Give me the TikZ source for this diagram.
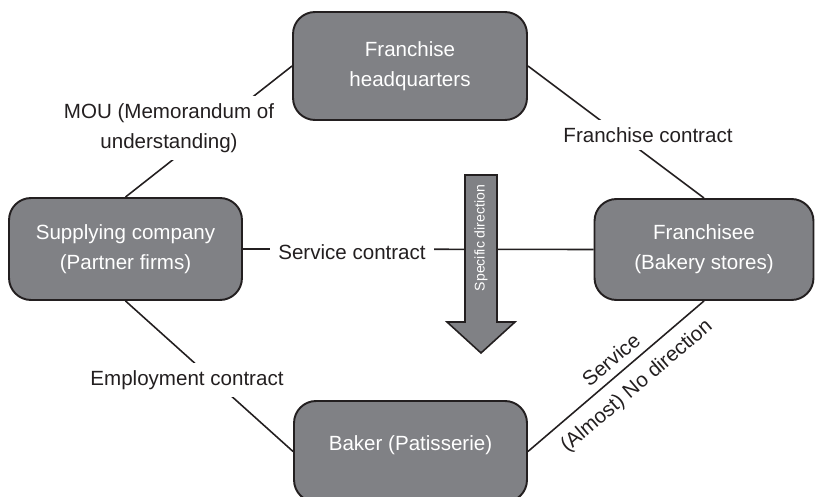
\documentclass[tikz,border=0pt]{standalone}
\usepackage{fontspec}
\setmainfont{Liberation Sans}
\definecolor{boxgray}{RGB}{128,129,133}
\definecolor{inkdark}{RGB}{35,31,32}
\begin{document}
\begin{tikzpicture}[x=0.02cm,y=0.02cm,font=\fontsize{11.7}{17}\selectfont]
\tikzstyle{party}=[draw=inkdark, fill=boxgray, line width=1.1pt, rounded corners=0.44cm, text=white, align=center, inner sep=0pt]
\tikzstyle{deal}=[fill=white, text=inkdark, align=center, inner sep=4.5pt]
\tikzstyle{link}=[draw=inkdark, line width=0.9pt]

\useasboundingbox (0,0) rectangle (815,497);
\clip (0,0) rectangle (815,497);

\node[party, minimum width=4.68cm, minimum height=2.16cm] (HQ) at (410,431) {Franchise\\headquarters};
\node[party, minimum width=4.66cm, minimum height=2.04cm] (SC) at (125.5,248) {Supplying company\\(Partner firms)};
\node[party, minimum width=4.38cm, minimum height=2.02cm] (FR) at (704,247.5) {Franchisee\\(Bakery stores)};
\node[party, minimum width=4.66cm, minimum height=2.02cm, text height=0.75em, text depth=0.85em] (BK) at (410.5,45.5) {Baker (Patisserie)};

\draw[link] (HQ.west) -- (SC.north);
\draw[link] (HQ.east) -- (FR.north);
\draw[link] (SC.east) -- (FR.west);
\draw[link] (SC.south) -- (BK.west);
\draw[link] (FR.south) -- node[pos=0.47, sloped, above=1pt, text=inkdark] {Service}
  node[pos=0.46, sloped, below=3pt, text=inkdark] {(Almost) No direction} (BK.east);

\node[deal] (mou) at (169,369) {MOU (Memorandum of\\understanding)};
\node[deal] (fc) at (648,362) {Franchise contract};
\node[deal] (sc) at (352,245) {Service contract};
\node[deal] (ec) at (187,117) {Employment contract};

% big arrow
\draw[fill=boxgray, draw=inkdark, line width=0.9pt] (465,322) -- (497,322) -- (497,175) -- (515,175)
  -- (481,144) -- (447,175) -- (465,175) -- cycle;
\node[rotate=90, text=white, font=\fontsize{8}{10}\selectfont] (dir) at (481,259) {Specific direction};
\end{tikzpicture}
\end{document}
